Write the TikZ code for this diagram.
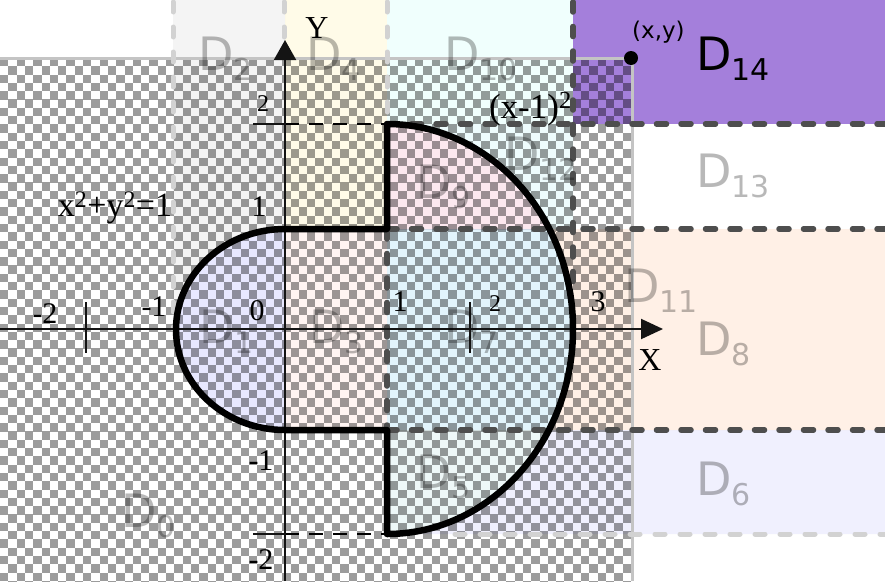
\documentclass[tikz,border=0pt]{standalone}
\usepackage{fontspec}
\setmainfont{Liberation Serif}
\newfontfamily\dejavu{DejaVu Sans}
\usetikzlibrary{arrows.meta}
\definecolor{ck}{HTML}{9C9C9C}
\definecolor{ckb}{HTML}{C4C4C4}
\definecolor{cA}{HTML}{E8E8FF}
\definecolor{cB}{HTML}{F4F4F4}
\definecolor{cC}{HTML}{FFF4F2}
\definecolor{cD}{HTML}{FFFBE8}
\definecolor{cE}{HTML}{EEF8F8}
\definecolor{cF}{HTML}{F0F0FE}
\definecolor{cG}{HTML}{E2F4FC}
\definecolor{cH}{HTML}{FFF0E6}
\definecolor{cI}{HTML}{FCE8EF}
\definecolor{cJ}{HTML}{F0FFFD}
\definecolor{cK}{HTML}{EEFCFD}
\definecolor{cL}{HTML}{A47FDB}
\definecolor{dk}{HTML}{4E4E4E}
\definecolor{lt}{HTML}{D2D2D2}
\newcommand{\Dl}[1]{{\fontsize{46}{46}\selectfont D\raisebox{-10pt}{\fontsize{30}{30}\selectfont #1}}}
\tikzset{
  axisln/.style={line width=2pt, draw=black!92},
  dkdash/.style={draw=dk, line width=5.5pt, line cap=round, dash pattern=on 10pt off 14.5pt},
  ltdash/.style={draw=lt, line width=5pt, line cap=round, dash pattern=on 10pt off 15pt},
  thindash/.style={draw=black, line width=2pt, dash pattern=on 14pt off 10pt},
  outline/.style={draw=black, line width=6.5pt, line join=round},
  tlab/.style={inner sep=0, font=\fontsize{30}{30}\selectfont},
  slab/.style={inner sep=0, font=\fontsize{24}{24}\selectfont},
  dlab/.style={inner sep=0, anchor=base west, font=\dejavu, text=black, text opacity=0.28}
}
\begin{document}
\begin{tikzpicture}[x=1pt,y=-1pt]
\useasboundingbox (0,0) rectangle (885,581);
\fill[white] (0,0) rectangle (885,581);
% checkerboard
\begin{scope}
\clip (0,58) rectangle (632,581);
\foreach \r in {0,...,63} {
  \pgfmathsetmacro\yy{58+8.3*\r+4.15}
  \pgfmathsetmacro\ph{mod(\r,2)*8.3}
  \draw[ck, line width=8.4pt, dash pattern=on 8.3pt off 8.3pt, dash phase=\ph pt] (0,\yy) -- (640,\yy);
}
\end{scope}
% region fills
\begin{scope}[blend mode=multiply]
  \begin{scope}\clip (173,0) rectangle (285,329.5);
    \fill[cB, even odd rule] (173,0) rectangle (285,329.5) (285,329.5) ellipse [x radius=109, y radius=100.5];
  \end{scope}
  \begin{scope}\clip (0,0) rectangle (285,581);
    \fill[cA] (285,329.5) ellipse [x radius=109, y radius=100.5];
  \end{scope}
  \fill[cD] (285,0) rectangle (387,229);
  \fill[cC] (285,229) rectangle (387,430);
  \fill[cJ] (387,0) rectangle (573,124);
  \fill[cL] (573,0) rectangle (885,124);
  \begin{scope}\clip (387,124) rectangle (573,229);
    \fill[cI] (387,329) ellipse [x radius=186, y radius=205];
  \end{scope}
  \begin{scope}\clip (387,124) rectangle (573,229);
    \fill[cK, even odd rule] (387,124) rectangle (573,229) (387,329) ellipse [x radius=186, y radius=205];
  \end{scope}
  \begin{scope}\clip (387,229) rectangle (885,430);
    \fill[cG] (387,329) ellipse [x radius=186, y radius=205];
  \end{scope}
  \begin{scope}\clip (387,229) rectangle (885,430);
    \fill[cH, even odd rule] (387,229) rectangle (885,430) (387,329) ellipse [x radius=186, y radius=205];
  \end{scope}
  \begin{scope}\clip (387,430) rectangle (885,534);
    \fill[cE] (387,329) ellipse [x radius=186, y radius=205];
  \end{scope}
  \begin{scope}\clip (387,430) rectangle (885,534);
    \fill[cF, even odd rule] (387,430) rectangle (885,534) (387,329) ellipse [x radius=186, y radius=205];
  \end{scope}
\end{scope}
% checker border
\draw[ckb, line width=3pt] (0,58) -- (632,58) -- (632,581);
% light dashed borders
\draw[ltdash] (173,2) -- (173,329);
\draw[ltdash] (284,2) -- (284,40);
\draw[ltdash] (387,2) -- (387,124);
\draw[ltdash] (455,534) -- (885,534);
% dark dashed borders
\draw[dkdash] (387,124) -- (885,124);
\draw[dkdash] (387,229) -- (885,229);
\draw[dkdash] (387,430) -- (885,430);
\draw[dkdash] (573,2) -- (573,290);
\draw[dkdash] (387,229) -- (387,430);
% thin dashed guides
\draw[thindash] (285,124) -- (387,124);
\draw[thindash] (285,534) -- (387,534);
% axes
\draw[axisln, -{Triangle[length=22pt,width=20pt]}] (0,329) -- (663,329);
\draw[axisln, -{Triangle[length=20pt,width=22pt]}] (285,581) -- (285,40);
\draw[axisln] (86,302) -- (86,353);
\draw[axisln] (470,302) -- (470,353);
\draw[axisln] (253,124) -- (285,124);
\draw[axisln] (253,534) -- (285,534);
% outline
\draw[outline] (387,124) -- (387,229) -- (285,229)
  arc[start angle=-90, end angle=-270, x radius=109, y radius=100.5]
  -- (387,430) -- (387,534)
  arc[start angle=90, end angle=-90, x radius=186, y radius=205] -- cycle;
% point
\fill (631,58) circle (7);
\node[inner sep=0, anchor=base west, font=\dejavu\fontsize{23}{23}\selectfont] (pxy) at (632,38) {(x,y)};
% axis labels
\node[inner sep=0, font=\fontsize{32}{32}\selectfont] (ly) at (317,28) {Y};
\node[inner sep=0, font=\fontsize{32}{32}\selectfont] (lx) at (650,360) {X};
\node[tlab] (xm2) at (45,314) {-2};
\node[tlab] (xm1) at (154,307) {-1};
\node[tlab] (x0) at (257,311) {0};
\node[tlab] (x1) at (400,302) {1};
\node[slab] (x2) at (495,304) {2};
\node[tlab] (x3) at (598,302) {3};
\node[slab] (y2) at (263,104) {2};
\node[tlab] (y1) at (259,207) {1};
\node[tlab] (ym1) at (261,461) {-1};
\node[tlab] (ym2) at (261,560) {-2};
\node[inner sep=0, font=\fontsize{34}{34}\selectfont] (eq1) at (115,208) {x\textsuperscript{2}+y\textsuperscript{2}=1};
\node[inner sep=0, anchor=base east, font=\fontsize{35}{35}\selectfont] (eq2) at (572,118) {(x-1)\textsuperscript{2}};
% region labels
\node[dlab] (d0) at (121,527) {\Dl{0}};
\node[dlab] (d1) at (199,343) {\Dl{1}};
\node[dlab] (d2) at (198,70) {\Dl{2}};
\node[dlab] (d3) at (309,343) {\Dl{3}};
\node[dlab] (d4) at (306,70) {\Dl{4}};
\node[dlab] (d5) at (416,488) {\Dl{5}};
\node[dlab] (d6) at (696,495) {\Dl{6}};
\node[dlab] (d7) at (444,343) {\Dl{7}};
\node[dlab] (d8) at (696,355) {\Dl{8}};
\node[dlab] (d9) at (416,198) {\Dl{9}};
\node[dlab] (d10) at (444,70) {\Dl{10}};
\node[dlab] (d11) at (624,302) {\Dl{11}};
\node[dlab] (d12) at (504,170) {\Dl{12}};
\node[dlab] (d13) at (696,187) {\Dl{13}};
\node[dlab, text opacity=1] (d14) at (696,70) {\Dl{14}};
\end{tikzpicture}
\end{document}
